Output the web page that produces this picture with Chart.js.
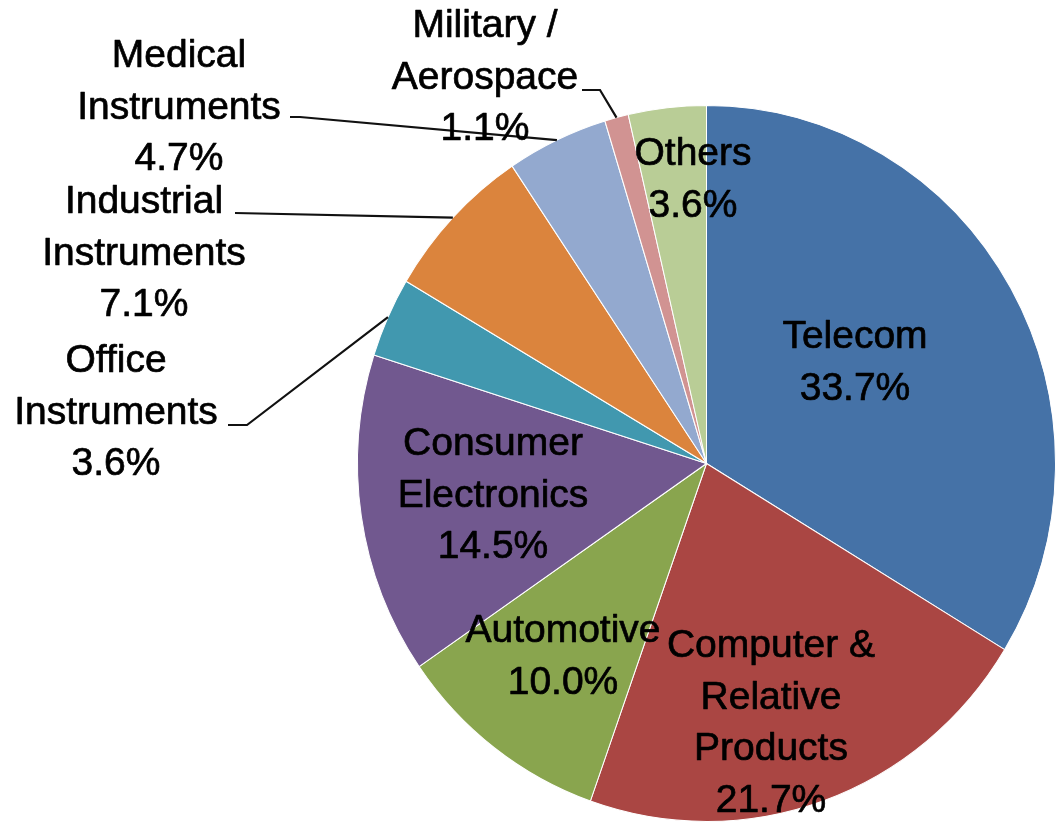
<!DOCTYPE html>
<html>
<head>
<meta charset="utf-8">
<script src="https://cdn.jsdelivr.net/npm/chart.js@4/dist/chart.umd.min.js"></script>
<style>
  body { margin: 0; background: #fff; }
  canvas { display: block; }
</style>
</head>
<body>
<canvas id="pieCanvas" width="1056" height="829"></canvas>
<script>
// data
let categories = [
    ['Telecom'],
    ['Computer &', 'Relative', 'Products'],
    ['Automotive'],
    ['Consumer', 'Electronics'],
    ['Office', 'Instruments'],
    ['Industrial', 'Instruments'],
    ['Medical', 'Instruments'],
    ['Military /', 'Aerospace'],
    ['Others']
];
let shares = [33.7, 21.7, 10.0, 14.5, 3.6, 7.1, 4.7, 1.1, 3.6];
let sliceColors = ['#4572A7', '#AA4643', '#89A54E', '#71588F', '#4198AF', '#DB843D', '#93A9CF', '#D19392', '#B9CD96'];

// label layout: centre x and first baseline y of each label block
let labelAnchors = [[855, 348], [771, 657], [563, 642], [493, 455], [116, 372], [144, 213], [179, 67], [485, 37], [693, 165]];
// leader line points from the label towards the slice (null = label inside slice)
let leaderPoints = [null, null, null, null, [[228, 425], [247, 425]], [[235, 213]], [[290, 117], [300, 117]], [[582, 90], [600, 90]], null];

const SQUASH_Y = 358 / 349; // pie is slightly taller than wide
const LINE_H = 51.5;

let stretchPlugin = {
    id: 'stretch',
    beforeDatasetsDraw(chart) {
        let arc = chart.getDatasetMeta(0).data[0];
        let ctx = chart.ctx;
        ctx.save();
        ctx.translate(arc.x, arc.y);
        ctx.scale(1, SQUASH_Y);
        ctx.translate(-arc.x, -arc.y);
    },
    afterDatasetsDraw(chart) {
        chart.ctx.restore();
    }
};

let labelPlugin = {
    id: 'sliceLabels',
    afterDraw(chart) {
        let ctx = chart.ctx;
        let arcs = chart.getDatasetMeta(0).data;
        ctx.save();
        // leader lines
        ctx.strokeStyle = '#111';
        ctx.lineWidth = 2.2;
        arcs.forEach(function (arc, i) {
            if (!leaderPoints[i]) return;
            let p = arc.getProps(['x', 'y', 'startAngle', 'endAngle', 'outerRadius'], true);
            let mid = (p.startAngle + p.endAngle) / 2;
            let ex = p.x + Math.cos(mid) * p.outerRadius;
            let ey = p.y + Math.sin(mid) * p.outerRadius * SQUASH_Y;
            ctx.beginPath();
            leaderPoints[i].forEach(function (pt, k) {
                if (k === 0) ctx.moveTo(pt[0], pt[1]);
                else ctx.lineTo(pt[0], pt[1]);
            });
            ctx.lineTo(ex, ey);
            ctx.stroke();
        });
        // texts (thin stroke to get the heavier look of the original)
        ctx.fillStyle = '#000';
        ctx.strokeStyle = '#000';
        ctx.lineWidth = 0.7;
        ctx.lineJoin = 'round';
        ctx.font = '39px "Liberation Sans", Arial, sans-serif';
        ctx.textAlign = 'center';
        ctx.textBaseline = 'alphabetic';
        categories.forEach(function (lines, i) {
            let all = lines.concat([shares[i].toFixed(1) + '%']);
            let a = labelAnchors[i];
            all.forEach(function (txt, k) {
                ctx.fillText(txt, a[0], a[1] + k * LINE_H);
                ctx.strokeText(txt, a[0], a[1] + k * LINE_H);
            });
        });
        ctx.restore();
    }
};

let pieChart = new Chart(document.getElementById('pieCanvas'), {
    type: 'pie',
    data: {
        labels: categories,
        datasets: [{
            data: shares,
            backgroundColor: sliceColors,
            borderColor: '#ffffff',
            borderWidth: 1
        }]
    },
    options: {
        responsive: false,
        animation: false,
        layout: { padding: { left: 357, right: 0, top: 114, bottom: 16 } },
        plugins: {
            legend: { display: false },
            tooltip: { enabled: false }
        }
    },
    plugins: [stretchPlugin, labelPlugin]
});
</script>
</body>
</html>
